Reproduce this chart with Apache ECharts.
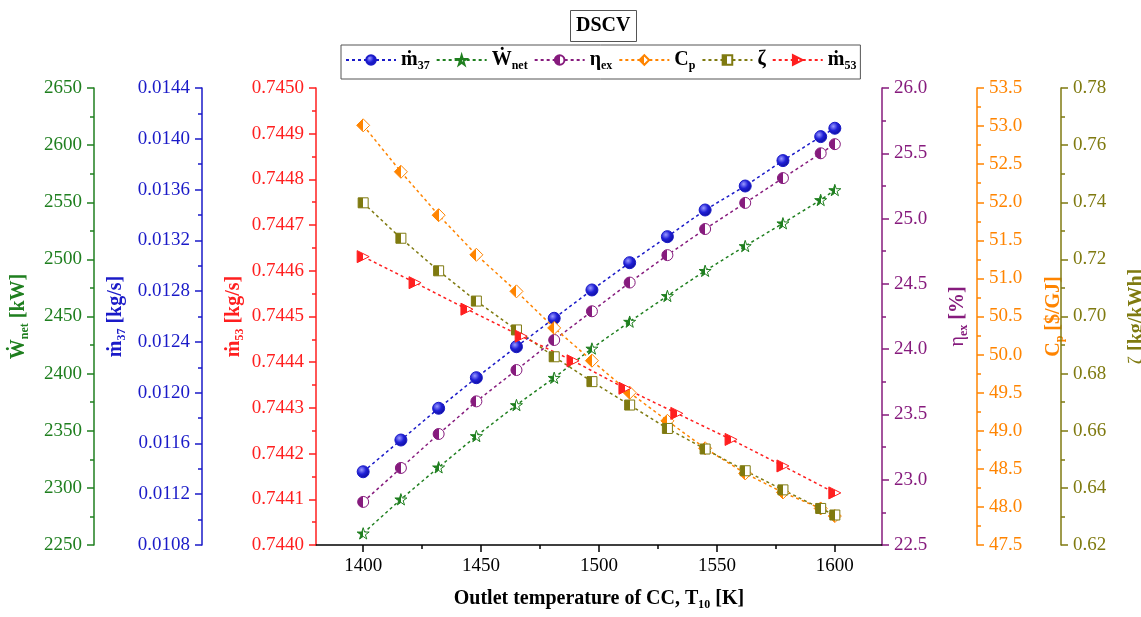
<!DOCTYPE html>
<html><head><meta charset="utf-8">
<script src="https://cdn.jsdelivr.net/npm/echarts@6/dist/echarts.min.js"></script>
<style>html,body{margin:0;padding:0;background:#fff}#c{width:1141px;height:617px}</style>
</head><body><div id="c"></div>
<script>
// ---- data ----
const tempA = [1400, 1416, 1432, 1448, 1465, 1481, 1497, 1513, 1529, 1545, 1562, 1578, 1594, 1600];
const tempB = [1400, 1422, 1444, 1467, 1489, 1511, 1533, 1556, 1578, 1600];
const m37   = [0.011377, 0.011627, 0.011877, 0.012118, 0.012362, 0.012586, 0.012809, 0.013024, 0.013229, 0.013439, 0.013628, 0.013828, 0.014017, 0.014083];
const wnet  = [2260.2, 2290, 2318, 2345.4, 2372.5, 2396.4, 2422, 2445.5, 2468, 2490, 2511.7, 2531.6, 2552, 2560.7];
const etaEx = [22.83, 23.09, 23.35, 23.60, 23.84, 24.07, 24.29, 24.51, 24.72, 24.92, 25.12, 25.31, 25.50, 25.57];
const cp    = [53.01, 52.40, 51.83, 51.31, 50.83, 50.35, 49.92, 49.50, 49.13, 48.77, 48.44, 48.19, 47.98, 47.88];
const zeta  = [0.7398, 0.7274, 0.7160, 0.7054, 0.6953, 0.6859, 0.6772, 0.6690, 0.6608, 0.6536, 0.6460, 0.6393, 0.6328, 0.6305];
const m53   = [0.744631, 0.744574, 0.744516, 0.744457, 0.744403, 0.744343, 0.744288, 0.744231, 0.744173, 0.744114];
const xTicks = [1400, 1450, 1500, 1550, 1600];
const xMinorTicks = [1425, 1475, 1525, 1575];

// ---- styling ----
const FONT = "'Liberation Serif','DejaVu Serif','Times New Roman',serif";
const C = {green:'#1f7f1f', blue:'#1a1ac8', red:'#ff1f1f', purple:'#861b7d', orange:'#ff8400', olive:'#7f7a10'};

function half(c) {
  return {type:'linear', x:0, y:0, x2:1, y2:0, colorStops:[
    {offset:0, color:c}, {offset:0.5, color:c}, {offset:0.5, color:'#fff'}, {offset:1, color:'#fff'}]};
}
const sphere = {type:'radial', x:0.38, y:0.35, r:0.75, colorStops:[
  {offset:0, color:'#9a9aff'}, {offset:0.45, color:'#2020d8'}, {offset:1, color:'#0a0a8a'}]};
const STAR = 'path://M50,0L61,35L98,35L68,57L79,91L50,70L21,91L32,57L2,35L39,35Z';
const TRI = 'path://M0,0L12,6L0,12Z';

function richFor(color, size) {
  return {
    b: {fontFamily:FONT, fontWeight:'bold', fontSize:size, color:color, lineHeight:28, verticalAlign:'middle'},
    n: {fontFamily:FONT, fontWeight:'normal', fontSize:size, color:color, lineHeight:28, verticalAlign:'middle'},
    s: {fontFamily:FONT, fontWeight:'bold', fontSize:Math.round(size*0.62), color:color, lineHeight:28, verticalAlign:'bottom', padding:[0,0,2,0]}
  };
}

function yAx(pos, off, min, max, interval, dec, color, name, gap) {
  return {
    type:'value', position:pos, offset:off, min:min, max:max, interval:interval,
    name:name, nameLocation:'middle', nameGap:gap, nameRotate:90,
    nameTextStyle:{color:color, fontFamily:FONT, fontSize:20, fontWeight:'bold', rich:richFor(color, 20)},
    axisLine:{show:true, onZero:false, lineStyle:{color:color, width:1.5}},
    axisTick:{show:true, inside:false, length:7, lineStyle:{color:color, width:1.5}},
    minorTick:{show:true, splitNumber:2, length:4, lineStyle:{color:color, width:1.5}},
    axisLabel:{color:color, fontFamily:FONT, fontSize:19, margin:12, formatter:v => v.toFixed(dec)},
    splitLine:{show:false}, minorSplitLine:{show:false}
  };
}

function ser(name, xs, ys, yi, color, symbol, size, fill) {
  return {
    name:name, type:'line', yAxisIndex:yi,
    data: xs.map((x, i) => [x, ys[i]]),
    symbol:symbol, symbolSize:size, symbolKeepAspect:true, showAllSymbol:true,
    lineStyle:{color:color, width:1.5, type:[3,3]},
    itemStyle:{color:fill, borderColor:color, borderWidth:1},
    emphasis:{disabled:true}, z:3
  };
}

const legendLabels = {
  m37:'{b|ṁ}{s|37}', Wnet:'{b|Ẇ}{s|net}', eta:'{b|η}{s|ex}', Cp:'{b|C}{s|p}', zeta:'{b|ζ}', m53:'{b|ṁ}{s|53}'
};

const option = {
  backgroundColor:'#fff',
  animation:false,
  title:{text:'DSCV', left:570, top:10, padding:[6,6],
    borderColor:'#555', borderWidth:1,
    textStyle:{fontFamily:FONT, fontSize:20, fontWeight:'bold', color:'#000'}},
  legend:{left:341, top:45, itemWidth:50, itemHeight:12, itemGap:6,
    borderColor:'#555', borderWidth:1, padding:[5,4],
    data:['m37','Wnet','eta','Cp','zeta','m53'],
    formatter:n => legendLabels[n],
    textStyle:{color:'#000', fontFamily:FONT, fontSize:20, fontWeight:'bold', rich:richFor('#000', 20)}},
  grid:{left:316, right:259, top:88, bottom:72, containLabel:false, outerBoundsMode:'none'},
  xAxis:[
    {type:'value', min:1380, max:1620, position:'bottom',
     name:'Outlet temperature of CC, T₁₀ [K]', nameLocation:'middle', nameGap:44,
     nameTextStyle:{color:'#000', fontFamily:FONT, fontSize:20, fontWeight:'bold'},
     axisLine:{show:true, onZero:false, lineStyle:{color:'#000', width:1.5}},
     axisTick:{show:true, length:7, customValues:xTicks, lineStyle:{color:'#000', width:1.5}},
     axisLabel:{color:'#000', fontFamily:FONT, fontSize:19, margin:12, customValues:xTicks, formatter:v => String(v)},
     splitLine:{show:false}},
    {type:'value', min:1380, max:1620, position:'bottom',
     axisLine:{show:false}, axisLabel:{show:false},
     axisTick:{show:true, length:4, customValues:xMinorTicks, lineStyle:{color:'#000', width:1.5}},
     splitLine:{show:false}}
  ],
  yAxis:[
    yAx('left', 0, 0.7440, 0.7450, 0.0001, 4, C.red, '{b|ṁ}{s|53}{b| [kg/s]}', 63),
    yAx('left', 114, 0.0108, 0.0144, 0.0004, 4, C.blue, '{b|ṁ}{s|37}{b| [kg/s]}', 72),
    yAx('left', 222, 2250, 2650, 50, 0, C.green, '{b|Ẇ}{s|net}{b| [kW]}', 61),
    yAx('right', 0, 22.5, 26.0, 0.5, 1, C.purple, '{n|η}{s|ex}{b| [%]}', 62),
    yAx('right', 95, 47.5, 53.5, 0.5, 1, C.orange, '{b|C}{s|p}{b| [$/GJ]}', 63),
    yAx('right', 179, 0.62, 0.78, 0.02, 2, C.olive, '{n|ζ}{b| [kg/kWh]}', 62)
  ],
  series:[
    ser('m37', tempA, m37, 1, C.blue, 'circle', 12, sphere),
    ser('Wnet', tempA, wnet, 2, C.green, STAR, 12, half(C.green)),
    ser('eta', tempA, etaEx, 3, C.purple, 'circle', 11, half(C.purple)),
    ser('Cp', tempA, cp, 4, C.orange, 'diamond', 13, half(C.orange)),
    ser('zeta', tempA, zeta, 5, C.olive, 'rect', 10, half(C.olive)),
    ser('m53', tempB, m53, 0, C.red, TRI, 12, half(C.red))
  ]
};

const chart = echarts.init(document.getElementById('c'), null, {renderer:'canvas'});
chart.setOption(option);
</script>
</body></html>
